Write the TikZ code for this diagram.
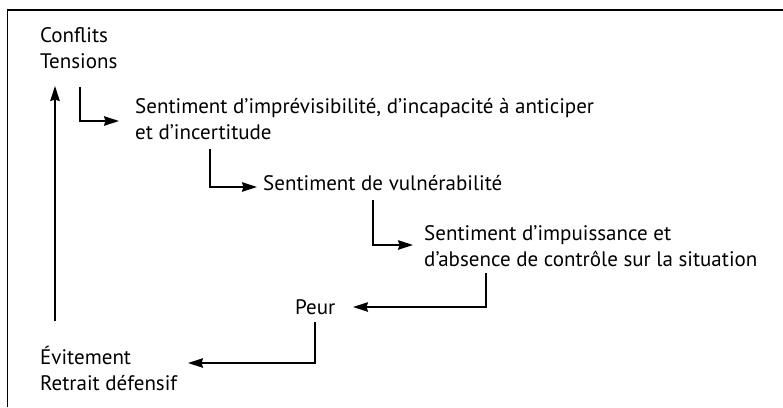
\documentclass[tikz,border=0pt]{standalone}
\usepackage{fontspec}
\setmainfont{PT Sans}
\usetikzlibrary{arrows.meta}
\begin{document}
\begin{tikzpicture}[x=1pt,y=-1pt,
  lbl/.style={anchor=base west,inner sep=0pt,font=\fontsize{21}{26}\selectfont},
  conn/.style={line width=1.3pt,-{Stealth[length=15pt,width=9.5pt,inset=1.5pt]}},
  frame/.style={line width=1.6pt}]
\useasboundingbox (0,0) rectangle (783,407);
\draw[frame] (7.5,407) -- (7.5,10) -- (783,10);
% texts
\node[lbl] (conf1) at (40,42) {Conflits};
\node[lbl] (conf2) at (40,68) {Tensions};
\node[lbl] (imp1) at (135,113) {Sentiment d’imprévisibilité, d’incapacité à anticiper};
\node[lbl] (imp2) at (135,139) {et d’incertitude};
\node[lbl] (vul) at (263,190) {Sentiment de vulnérabilité};
\node[lbl] (imps1) at (424,240) {Sentiment d’impuissance et};
\node[lbl] (imps2) at (424,266) {d’absence de contrôle sur la situation};
\node[lbl] (peur) at (295,314) {Peur};
\node[lbl] (evit1) at (40,364) {Évitement};
\node[lbl] (evit2) at (40,390) {Retrait défensif};
% connectors
\coordinate (a0) at (55,321);
\coordinate (a1) at (55,86);
\draw[conn] (a0) -- (a1);
\coordinate (s1) at (80,87);
\coordinate (e1) at (119,121);
\draw[conn] (s1) |- (e1);
\coordinate (s2) at (210,149);
\coordinate (e2) at (257,187);
\draw[conn] (s2) |- (e2);
\coordinate (s3) at (373,200);
\coordinate (e3) at (413,245);
\draw[conn] (s3) |- (e3);
\coordinate (s4) at (486,273);
\coordinate (e4) at (353,307);
\draw[conn] (s4) |- (e4);
\coordinate (s5) at (315,322);
\coordinate (e5) at (188,363);
\draw[conn] (s5) |- (e5);
\end{tikzpicture}
\end{document}
